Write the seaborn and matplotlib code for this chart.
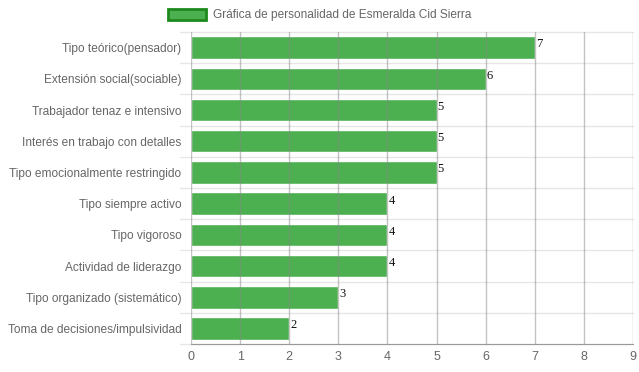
import numpy as np
import pandas as pd
import seaborn as sns
import matplotlib.pyplot as plt
from matplotlib.patches import Patch

categories = [
    'Tipo teórico(pensador)',
    'Extensión social(sociable)',
    'Trabajador tenaz e intensivo',
    'Interés en trabajo con detalles',
    'Tipo emocionalmente restringido',
    'Tipo siempre activo',
    'Tipo vigoroso',
    'Actividad de liderazgo',
    'Tipo organizado (sistemático)',
    'Toma de decisiones/impulsividad',
]
values = [7, 6, 5, 5, 5, 4, 4, 4, 3, 2]
series_name = 'Gráfica de personalidad de Esmeralda Cid Sierra'

df = pd.DataFrame({'categoria': categories, 'valor': values})

sns.set_style('white')
plt.rcParams['font.family'] = ['Liberation Sans', 'DejaVu Sans']

fig = plt.figure(figsize=(6.39, 3.72), dpi=100)
ax = fig.add_axes([0.299, 0.075, 0.6916, 0.839])

green = '#4caf50'
sns.barplot(data=df, x='valor', y='categoria', orient='h', color=green,
            saturation=1, width=0.72, ax=ax, zorder=2)

ax.set_xlim(0, 9)
ax.set_ylim(len(categories) - 0.5, -0.5)
ax.set_xticks(range(10))

# vertical grid over the bars
for x in range(10):
    ax.axvline(x, color='#888888', lw=1, alpha=0.5, zorder=3)
# horizontal separators between categories
for y in np.arange(-0.5, len(categories), 1):
    ax.plot([-0.22, 9], [y, y], color='#e6e6e6', lw=1, clip_on=False, zorder=1)

for i, v in enumerate(values):
    ax.text(v + 0.02, i - 0.1, str(v), family='Liberation Serif', fontsize=9,
            color='#111111', va='center', ha='left', zorder=4)

for s in ['top', 'right', 'left']:
    ax.spines[s].set_visible(False)
ax.spines['bottom'].set_color('#999999')
ax.tick_params(axis='y', length=0, pad=7, labelsize=8.6, labelcolor='#666666')
ax.tick_params(axis='x', length=0, pad=5, labelsize=9, labelcolor='#666666')
ax.set_xlabel('')
ax.set_ylabel('')

handle = Patch(facecolor=green, edgecolor='#1e8a1e', linewidth=2, label=series_name)
fig.legend(handles=[handle], loc='upper center', bbox_to_anchor=(0.5, 1.005),
           frameon=False, fontsize=8.6, labelcolor='#666666',
           handlelength=3.2, handleheight=1.0, handletextpad=0.6)

fig.savefig('out.png', dpi=100)
